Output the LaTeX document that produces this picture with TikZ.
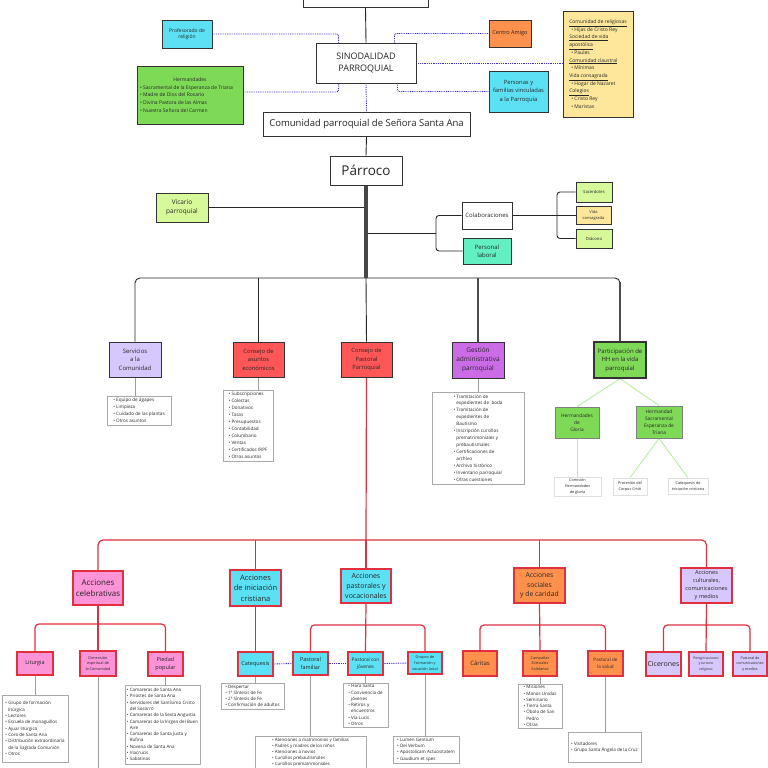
\documentclass[tikz,border=0pt]{standalone}
\usepackage{fontspec}
\setmainfont{Open Sans}
\usetikzlibrary{calc,backgrounds}
\definecolor{cyanb}{HTML}{5CE1F4}
\definecolor{greenb}{HTML}{7ED957}
\definecolor{orangeb}{HTML}{FF914D}
\definecolor{redb}{HTML}{FF5757}
\definecolor{purpb}{HTML}{CB6CE6}
\definecolor{lavb}{HTML}{D6C8FC}
\definecolor{limeb}{HTML}{D8F99A}
\definecolor{yellowb}{HTML}{FEE79A}
\definecolor{mintb}{HTML}{62EFC2}
\definecolor{pinkb}{HTML}{FD94D8}
\definecolor{txt}{HTML}{262626}
\definecolor{bdc}{HTML}{333333}
\definecolor{redc}{HTML}{E0303F}
\definecolor{lgray}{HTML}{AAAAAA}
\definecolor{dotc}{HTML}{3B2FD0}
\definecolor{lgreen}{HTML}{B8EFA2}
\newcommand\fz[2]{\fontsize{#1}{#2}\selectfont}
\newcommand\li{\textbullet\ }
\newcommand\lc{\hphantom{\textbullet\ }}
\newcommand\R[7]{\node[#1,minimum width={#5pt-#3pt},minimum height={#6pt-#4pt}] (#2) at ({(#3+#5)/2},{(#4+#6)/2}) {#7};}
\tikzset{
 bx/.style={draw=bdc,line width=0.9pt,align=center,inner sep=0.5pt,text=txt},
 rb/.style={draw=redc,line width=1.2pt,align=center,inner sep=0.5pt,text=txt},
 lst/.style={draw=lgray,line width=0.7pt,align=left,inner sep=1pt,text=txt,fill=white},
 conn/.style={draw=black!85,line width=0.9pt},
 thk/.style={draw=gray!55!black,line width=3.5pt},
 gthk/.style={draw=gray!60!black,line width=1.8pt},
 dotb/.style={draw=dotc,line width=0.9pt,dash pattern=on 0.9pt off 0.9pt},
 redl/.style={draw=redc,line width=1.2pt},
 grl/.style={draw=gray!75,line width=1pt},
 gnl/.style={draw=lgreen,line width=0.9pt}
}
\begin{document}
\begin{tikzpicture}[x=1pt,y=-1pt]
\useasboundingbox (0,0) rectangle (768,768);
% top part
\R{bx,fill=white}{topb}{303}{-10}{428}{7}{}
\R{bx,fill=cyanb,font=\fz{5}{6.5}}{prof}{162}{20}{212}{48}{Profesorado de\\religión}
\R{bx,fill=white,font=\fz{9}{12.5}}{sin}{316}{43}{416}{83}{SINODALIDAD\\PARROQUIAL}
\R{bx,fill=orangeb,font=\fz{5.5}{7}}{ca}{489}{20}{531}{47}{Centro Amigo}
\R{bx,fill=cyanb,font=\fz{5.8}{8.2}}{per}{489}{71}{548}{112}{Personas y\\familias vinculadas\\a la Parroquia}
\R{bx,fill=yellowb,align=left,font=\fz{5}{7.7}}{yel}{563}{11}{633}{117}{\underline{Comunidad de religiosas}\\\hspace*{2pt}\li Hijas de Cristo Rey\\\underline{Sociedad de vida}\\\underline{apostólica}\\\hspace*{2pt}\li Paules\\\underline{Comunidad claustral}\\\hspace*{2pt}\li Mínimas\\\underline{Vida consagrada}\\\hspace*{2pt}\li Hogar de Nazaret\\\underline{Colegios}\\\hspace*{2pt}\li Cristo Rey\\\hspace*{2pt}\li Maristas}
\R{bx,fill=greenb,align=left,font=\fz{5}{7.7}}{herm}{137}{66}{243}{124}{\makebox[100pt]{Hermandades}\\\li Sacramental de la Esperanza de Triana\\\li Madre de Dios del Rosario\\\li Divina Pastora de las Almas\\\li Nuestra Señora del Carmen}
\R{bx,fill=white,font=\fz{9.5}{11}}{com}{263}{112}{470}{136}{Comunidad parroquial de Señora Santa Ana}
\R{bx,fill=white,font=\fz{13.5}{15}}{par}{330}{156}{402}{185}{Párroco}
\R{bx,fill=limeb,font=\fz{6.5}{9.5}}{vic}{156}{193}{208}{222}{Vicario\\parroquial}
\R{bx,fill=white,font=\fz{6}{7}}{col}{462}{202}{512}{229}{Colaboraciones}
\R{bx,fill=mintb,font=\fz{6}{8.5}}{pl}{463}{238}{511}{264}{Personal\\laboral}
\R{bx,fill=limeb,font=\fz{4.2}{5}}{sac}{576}{182}{612}{202}{Sacerdotes}
\R{bx,fill=yellowb,font=\fz{4}{6}}{vc}{576}{206}{611}{224}{Vida\\consagrada}
\R{bx,fill=limeb,font=\fz{4.2}{5}}{dia}{576}{229}{612}{248}{Diácono}
% second row
\R{bx,fill=lavb,font=\fz{6}{8.5}}{serv}{109}{342}{161}{377}{Servicios\\a la\\Comunidad}
\R{bx,fill=redb,font=\fz{5.8}{8.5}}{eco}{233}{342}{284}{377}{Consejo de\\asuntos\\económicos}
\R{bx,fill=redb,font=\fz{5.8}{8.5}}{cp}{341}{342}{392}{377}{Consejo de\\Pastoral\\Parroquial}
\R{bx,fill=purpb,font=\fz{6.5}{9}}{ges}{452}{342}{504}{378}{Gestión\\administrativa\\parroquial}
\R{bx,fill=greenb,line width=1.4pt,font=\fz{6}{8.5}}{part}{594}{342}{646}{378}{Participación de\\HH en la vida\\parroquial}
\R{lst,font=\fz{4.6}{7}}{sl}{107}{396}{171}{425}{\li Equipo de ágapes\\\li Limpieza\\\li Cuidado de las plantas\\\li Otros asuntos}
\R{lst,font=\fz{4.6}{7}}{el}{223}{390}{273}{461}{\li Subscripciones\\\li Colectas\\\li Donativos\\\li Tasas\\\li Presupuestos\\\li Contabilidad\\\li Columbario\\\li Ventas\\\li Certificados IRPF\\\li Otros asuntos}
\R{lst,font=\fz{4.6}{6.95}}{gl}{432}{392}{524}{484}{\li Tramitación de\\\lc expedientes de\ \ boda\\\li Tramitación de\\\lc expedientes de\\\lc Bautismo\\\li Inscripción cursillos\\\lc prematrimoniales y\\\lc prebautismales\\\li Certificaciones de\\\lc archivo\\\li Archivo histórico\\\li Inventario parroquial\\\li Otras cuestiones}
\R{bx,draw=gray,fill=greenb,font=\fz{4.8}{7}}{hg}{555}{407}{599}{438}{Hermandades\\de\\Gloria}
\R{bx,draw=gray,fill=greenb,font=\fz{4.8}{7}}{hs}{636}{406}{682}{438}{Hermandad\\Sacramental\\Esperanza de\\Triana}
\R{lst,draw=gray!25,align=center,font=\fz{3.8}{5.6}}{chg}{554}{477}{601}{496}{Comisión\\Hermandades\\de gloria}
\R{lst,draw=gray!25,align=center,font=\fz{3.8}{5.6}}{pcc}{613}{478}{647}{495}{Procesión del\\Corpus Cristi}
\R{lst,draw=gray!25,align=center,font=\fz{3.8}{5.6}}{ccr}{668}{478}{708}{494}{Catequesis de\\iniciación cristiana}
% acciones
\R{rb,fill=pinkb,font=\fz{8}{11}}{cel}{73}{571}{123}{605}{Acciones\\celebrativas}
\R{rb,fill=cyanb,font=\fz{7.5}{10.5}}{ini}{230}{570}{281}{606}{Acciones\\de iniciación\\cristiana}
\R{rb,fill=cyanb,font=\fz{7}{10}}{pas}{341}{569}{391}{603}{Acciones\\pastorales y\\vocacionales}
\R{rb,fill=orangeb,font=\fz{6.8}{9.5}}{soc}{514}{568}{565}{603}{Acciones\\sociales\\y de caridad}
\R{rb,fill=lavb,font=\fz{5.6}{8}}{cul}{681}{568}{732}{603}{Acciones\\culturales,\\comunicaciones\\y medios}
\R{rb,fill=pinkb,font=\fz{5.5}{7}}{lit}{17}{652}{53}{675}{Liturgia}
\R{rb,fill=pinkb,font=\fz{3.8}{5.5}}{dim}{80}{651}{116}{676}{Dimensión\\espiritual de\\la Comunidad}
\R{rb,fill=pinkb,font=\fz{5.5}{8}}{pie}{148}{652}{183}{676}{Piedad\\popular}
\R{rb,fill=cyanb,font=\fz{5.5}{7}}{cat}{238}{652}{273}{676}{Catequesis}
\R{rb,fill=cyanb,font=\fz{5.5}{8}}{pf}{293}{652}{328}{675}{Pastoral\\familiar}
\R{rb,fill=cyanb,font=\fz{4.8}{7.5}}{pj}{348}{652}{383}{675}{Pastoral con\\jóvenes}
\R{rb,fill=cyanb,font=\fz{3.8}{5.6}}{gf}{408}{652}{442}{674}{Grupos de\\formación y\\vocación laical}
\R{rb,fill=orangeb,font=\fz{6}{7}}{car}{463}{651}{497}{676}{Cáritas}
\R{rb,fill=orangeb,font=\fz{3.8}{5.8}}{cam}{523}{651}{557}{676}{Campañas\\Eclesiales\\Solidarias}
\R{rb,fill=orangeb,font=\fz{4.6}{7}}{sal}{588}{651}{623}{676}{Pastoral de\\la salud}
\R{rb,fill=lavb,font=\fz{7}{8}}{cice}{646}{652}{681}{676}{Cicerones}
\R{rb,fill=lavb,font=\fz{3.4}{5.3}}{pere}{689}{652}{723}{676}{Peregrinaciones\\y turismo\\religioso}
\R{rb,fill=lavb,font=\fz{3.6}{5.5}}{pcm}{733}{652}{767}{676}{Pastoral de\\comunicaciones\\y medios}
% lists bottom
\R{lst,font=\fz{4.5}{6.35}}{ll}{2}{695}{68}{762}{\li Grupo de formación\\\lc litúrgica\\\li Lectores\\\li Escuela de monaguillos\\\li Ajuar litúrgico\\\li Coro de Santa Ana\\\li Distribución extraordinaria\\\lc de la Sagrada Comunión\\\li Otros}
\R{lst,font=\fz{4.5}{6.3}}{pil}{125}{685}{200}{764}{\li Camareras de Santa Ana\\\li Priostes de Santa Ana\\\li Servidores del Santísimo Cristo\\\lc del Socorro\\\li Camareras de la Sexta Angustia\\\li Camareras de la Virgen del Buen\\\lc Aire\\\li Camareras de Santa Justa y\\\lc Rufina\\\li Novena de Santa Ana\\\li Viacrucis\\\li Sabatinas}
\R{lst,font=\fz{4.5}{6.2}}{catl}{221}{683}{284}{709}{\li Despertar\\\li 1ª Síntesis de Fe\\\li 2ª Síntesis de Fe\\\li Confirmación de adultos}
\R{lst,font=\fz{4.4}{5.9}}{pfl}{255}{736}{366}{769}{\li Atenciones a matrimonios y familias\\\li Padres y madres de los niños\\\li Atenciones a novios\\\li Cursillos prebautismales\\\li Cursillos prematrimoniales}
\R{lst,font=\fz{4.5}{6.3}}{pjl}{343}{683}{388}{727}{\li Hora Santa\\\li Convivencia de\\\lc jóvenes\\\li Retiros y\\\lc encuentros\\\li Vía Lucis\\\li Otros}
\R{lst,font=\fz{4.5}{6.4}}{gfl}{393}{736}{459}{763}{\li Lumen Gentium\\\li Dei Verbum\\\li Apostolicam Actuositatem\\\li Gaudium et spes}
\R{lst,font=\fz{4.5}{6.3}}{caml}{518}{684}{562}{728}{\li Misiones\\\li Manos Unidas\\\li Seminario\\\li Tierra Santa\\\li Óbolo de San\\\lc Pedro\\\li Otras}
\R{lst,font=\fz{4.5}{6}}{sall}{568}{732}{641}{762}{\li Visitadores\\\li Grupo Santa Ángela de la Cruz}
% coordinates
\coordinate (bus) at (366,278);
\coordinate (cj) at (366,233);
\coordinate (br) at (436,233);
\coordinate (br2) at (557,215);
\coordinate (rbus) at (366,540);
\coordinate (cbus) at (98,624);
\coordinate (pbus) at (366,625);
\coordinate (sbus) at (539.5,625);
\coordinate (ubus) at (706.5,625);
\coordinate (bot) at (98,780);
\begin{pgfonlayer}{background}
\fill[white] (0,0) rectangle (768,768);
\draw[conn] (topb.south) -- (sin.north);
\draw[dotb,rounded corners=2] (prof.east) -| ($(sin.north west)+(23,0)$);
\draw[dotb,rounded corners=2] ($(herm.east)+(0,-3)$) -| ($(sin.south west)+(23,0)$);
\draw[dotb] (sin.south) -- (com.north);
\draw[dotb,rounded corners=2] ($(sin.north east)+(-22,0)$) |- (ca.west);
\draw[dotb] (sin.east) -- (sin.east -| yel.west);
\draw[dotb,rounded corners=2] ($(sin.south east)+(-19,0)$) |- (per.west);
\draw[conn] (com.south) -- (par.north);
\draw[conn] (vic.east) -- (vic.east -| par.south);
\draw[conn] (cj) -- (br);
\draw[conn,rounded corners=3] (col.west) -| (br) |- (pl.west);
\draw[conn] (col.east) -- (col.east -| vc.west);
\draw[conn,rounded corners=3] (sac.west) -| (br2) |- (dia.west);
\draw[conn,rounded corners=5] (serv.north) |- (bus) -| (part.north);
\draw[conn] (eco.north) -- (eco.north |- bus);
\draw[conn] (bus) -- (cp.north);
\draw[gthk] (ges.north) -- (ges.north |- bus);
\draw[gthk] (part.north) -- ($(part.north |- bus)+(0,4)$);
\draw[thk] (par.south) -- (bus);
\draw[grl] (serv.south) -- (serv.south |- sl.north);
\draw[grl] (eco.south) -- (eco.south |- el.north);
\draw[grl] (ges.south) -- (ges.south |- gl.north);
\draw[gnl] (part.south) -- (hg.north);
\draw[gnl] (part.south) -- (hs.north);
\draw[gnl] (hg.south) -- (hg.south |- chg.north);
\draw[gnl] (hs.south) -- (pcc.north);
\draw[gnl] (hs.south) -- (ccr.north);
\draw[redl] (cp.south) -- (rbus);
\draw[redl,rounded corners=5] (cel.north) |- (rbus) -| (cul.north);
\draw[redl] (ini.north) -- (ini.north |- rbus);
\draw[redl] (soc.north) -- (soc.north |- rbus);
\draw[redl] (rbus) -- (pas.north);
\draw[redl,rounded corners=4] (lit.north) |- (cbus) -| (pie.north);
\draw[redl] (cel.south) -- (dim.north);
\draw[redl] (ini.south) -- (cat.north);
\draw[redl,rounded corners=4] (pf.north) |- (pbus) -| (gf.north);
\draw[redl] (pas.south) -- (pj.north);
\draw[redl,rounded corners=4] (car.north) |- (sbus) -| (sal.north);
\draw[redl] (soc.south) -- (cam.north);
\draw[redl,rounded corners=4] (cice.north) |- (ubus) -| (pcm.north);
\draw[redl] (cul.south) -- (pere.north);
\draw[grl] (lit.south) -- (lit.south |- ll.north);
\draw[grl] (dim.south) -- (bot);
\draw[grl] (pie.south) -- (pie.south |- pil.north);
\draw[grl] (cat.south) -- (cat.south |- catl.north);
\draw[grl] (pf.south) -- (pf.south |- pfl.north);
\draw[grl] (pj.south) -- (pj.south |- pjl.north);
\draw[grl] (gf.south) -- (gf.south |- gfl.north);
\draw[grl] (cam.south) -- (cam.south |- caml.north);
\draw[grl] (sal.south) -- (sal.south |- sall.north);
\draw[dotb] (cat.east) -- (pf.west);
\draw[dotb] (pf.east) -- (pj.west);
\draw[dotb] (pj.east) -- (gf.west);
\end{pgfonlayer}
\end{tikzpicture}
\end{document}
